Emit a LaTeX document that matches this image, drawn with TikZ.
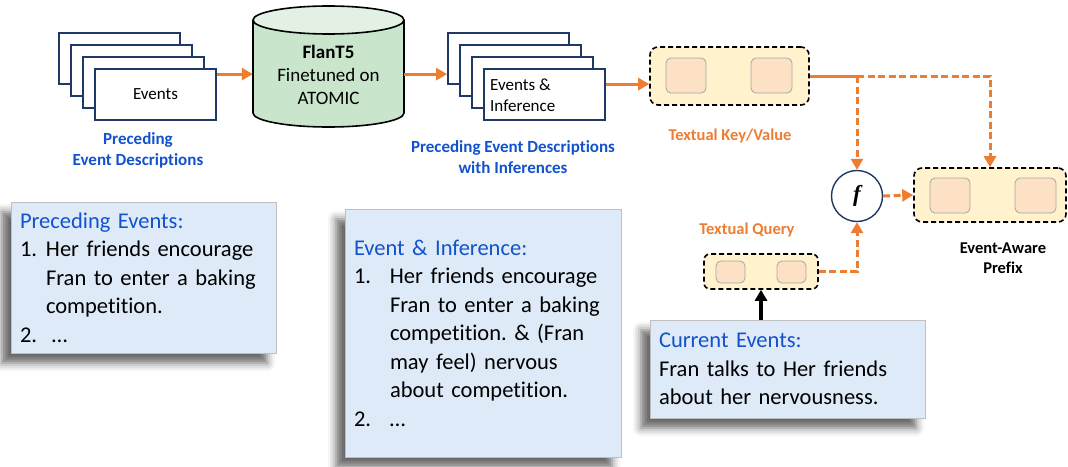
\documentclass[tikz,border=0pt]{standalone}
\usepackage{fontspec}
\setmainfont{Carlito}[Ligatures=NoCommon]
\newfontfamily\fserif{Liberation Serif}
\usetikzlibrary{
    arrows.meta,
    positioning,
    shadows.blur
}
\frenchspacing
\definecolor{orng}{HTML}{ED7D31}
\definecolor{navy}{HTML}{1F3864}
\definecolor{lblblue}{HTML}{1252CC}
\definecolor{cylbody}{HTML}{C9E6CC}
\definecolor{cyltop}{HTML}{E2F1E3}
\definecolor{tokfill}{HTML}{FFF2CC}
\definecolor{slotfill}{HTML}{FCE1C4}
\definecolor{notefill}{HTML}{DEEAF7}
\newcommand{\fs}[2]{\fontsize{#1}{#2}\selectfont}
\newcommand{\lbl}[2][26pt]{\makebox[#1][l]{#2}}
\tikzset{
    page/.style={draw=navy, line width=1.8pt, fill=white, minimum width=121pt, minimum height=51pt, inner sep=0pt, font=\fs{17}{21}},
    orarrow/.style={draw=orng, line width=3.2pt, -{Triangle[length=11pt,width=12pt]}},
    ordash/.style={orarrow, line width=3pt, dash pattern=on 7pt off 3.5pt},
    tokbox/.style={draw=black, dash pattern=on 5pt off 3pt, line width=1.6pt, fill=tokfill, rounded corners=8pt, inner sep=0pt},
    slot/.style={draw=black!35, fill=slotfill, rounded corners=5pt, inner sep=0pt, line width=0.8pt},
    note/.style={draw=black!25, fill=notefill, line width=0.8pt, align=left, inner xsep=9pt, font=\fs{22.5}{28.5},
        blur shadow={shadow xshift=-9pt, shadow yshift=-10pt, shadow blur radius=8pt, shadow opacity=60}},
    bluelbl/.style={text=lblblue, font=\bfseries\fs{17}{21}, align=center},
    orlbl/.style={text=orng, font=\bfseries\fs{16.5}{20}}
}

\begin{document}
\begin{tikzpicture}[x=1pt, y=-1pt]
    \useasboundingbox (0,0) rectangle (1068,466);
    % preceding events stack
    \foreach \i in {0,1,2}
        \node[page] (ev\i) at ({119.5+12*\i}, {58.5+12*\i}) {};
    \node[page] (ev3) at (155.5,94.5) {Events};
    \node[bluelbl] (evlbl) at (138,150) {Preceding\\Event Descriptions};

    % FlanT5 cylinder
    \draw[fill=cylbody, line width=1.6pt] (253,20) -- (253,113)
        arc[start angle=180, end angle=0, x radius=75.5, y radius=14] -- (404,20);
    \draw[fill=cyltop, line width=1.6pt] (328.5,20) ellipse [x radius=75.5, y radius=14];
    \node[minimum width=151pt, minimum height=122pt, inner sep=0pt] (flan) at (328.5,66) {};
    \node[font=\fs{19}{23}, align=center] (flantxt) at (328.5,75) {\textbf{FlanT5}\\Finetuned on\\ATOMIC};

    % events with inferences stack
    \foreach \i in {0,1,2}
        \node[page] (inf\i) at ({508.5+12*\i}, {58.5+12*\i}) {};
    \node[page] (inf3) at (544.5,94.5) {};
    \node[anchor=west, align=left, font=\fs{17}{21}, inner sep=0pt] (inftxt) at (490,95) {Events \&\\Inference};
    \node[bluelbl] (inflbl) at (513,157) {Preceding Event Descriptions\\with Inferences};

    % key/value
    \node[tokbox, minimum width=159pt, minimum height=58pt] (kv) at (729.5,76) {};
    \node[slot, minimum width=40pt, minimum height=35pt] (kv1) at (686,75.5) {};
    \node[slot, minimum width=41pt, minimum height=35pt] (kv2) at (771.5,75.5) {};
    \node[orlbl] (kvlbl) at (730,136) {Textual Key/Value};

    % f and prefix
    \node[circle, draw=navy, line width=1.4pt, minimum size=51pt, inner sep=0pt,
        font=\fserif\bfseries\itshape\fs{23}{23}] (fn) at (857,196) {f};
    \node[tokbox, minimum width=152pt, minimum height=54pt] (pre) at (990,195) {};
    \node[slot, minimum width=40pt, minimum height=35pt] (pre1) at (950,195.5) {};
    \node[slot, minimum width=41pt, minimum height=35pt] (pre2) at (1035.5,195.5) {};
    \node[font=\bfseries\fs{16.5}{20}, align=center] (prelbl) at (1003,258) {Event-Aware\\Prefix};

    % query
    \node[tokbox, minimum width=114pt, minimum height=35pt, rounded corners=6pt] (qry) at (761,271.5) {};
    \node[slot, minimum width=29pt, minimum height=22pt] (q1) at (730.5,272) {};
    \node[slot, minimum width=29pt, minimum height=22pt] (q2) at (791.5,272) {};
    \node[orlbl] (qlbl) at (747,230) {Textual Query};

    % text boxes
    \node[note, text width=247pt, minimum height=151pt] (prec) at (143.5,277.5) {%
        \textcolor{lblblue}{Preceding Events:}\\
        \lbl{1.}Her friends encourage\\
        \lbl{}Fran to enter a baking\\
        \lbl{}competition.\\
        \lbl[32pt]{2.}…};
    \node[note, text width=258pt, minimum height=248pt] (infbox) at (483,333) {%
        \textcolor{lblblue}{Event \& Inference:}\\
        \lbl[36pt]{1.}Her friends encourage\\
        \lbl[36pt]{}Fran to enter a baking\\
        \lbl[36pt]{}competition. \& (Fran\\
        \lbl[36pt]{}may feel) nervous\\
        \lbl[36pt]{}about competition.\\
        \lbl[36pt]{2.}…};
    \node[note, text width=257pt, minimum height=98pt] (cur) at (787.5,369) {%
        \textcolor{lblblue}{Current Events:}\\
        Fran talks to Her friends\\
        about her nervousness.};

    % connectors
    \coordinate (a1) at ([yshift=-6pt]ev3.north east);
    \draw[orarrow] (a1) -- (a1 -| flan.west);
    \draw[orarrow] (a1 -| flan.east) -- (a1 -| inf0.west);
    \coordinate (a3) at ([yshift=-16pt]inf3.north east);
    \draw[orarrow] (a3) -- (a3 -| kv.west);
    \coordinate (kvsplit) at (kv.east -| fn.north);
    \coordinate (kvend) at (kv.east -| pre.north);
    \draw[orng, line width=3pt] (kv.east) -- (kvsplit);
    \draw[ordash] (kvsplit) -- (kvend) -- (pre.north);
    \draw[ordash] (kvsplit) -- (fn.north);
    \draw[ordash] (qry.east) -| (fn.south);
    \draw[ordash] (fn.east) -- (pre.west);
    \draw[line width=3.2pt, -{Triangle[length=11pt,width=12pt]}] (qry.south |- cur.north) -- (qry.south);
\end{tikzpicture}
\end{document}
